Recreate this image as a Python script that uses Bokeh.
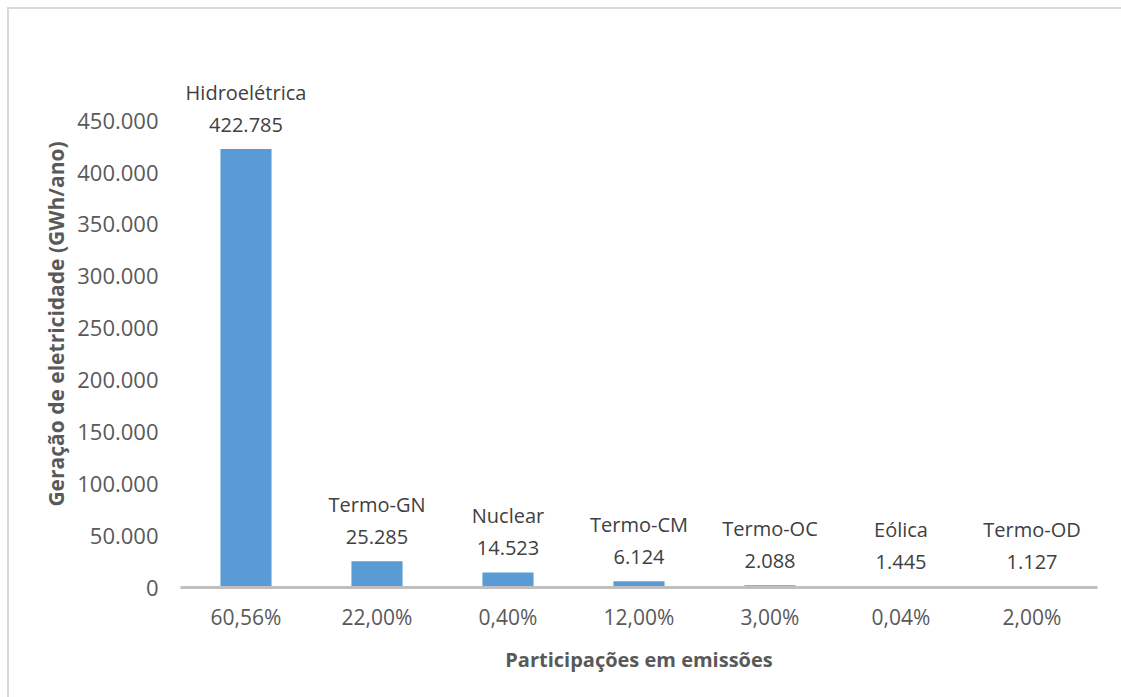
from bokeh.plotting import figure
from bokeh.models import ColumnDataSource, Range1d, FixedTicker, CustomJSTickFormatter
from bokeh.embed import file_html
from bokeh.resources import INLINE
from bokeh.core.properties import value

# Emission shares (x categories), source names and yearly generation (GWh/ano)
shares = ["60,56%", "22,00%", "0,40%", "12,00%", "3,00%", "0,04%", "2,00%"]
sources = ["Hidroelétrica", "Termo-GN", "Nuclear", "Termo-CM", "Termo-OC", "Eólica", "Termo-OD"]
generation = [422785, 25285, 14523, 6124, 2088, 1445, 1127]
y_ticks = [0, 50000, 100000, 150000, 200000, 250000, 300000, 350000, 400000, 450000]

FONT = "Open Sans"
TXT = "#595959"

def fmt(v):
    return f"{v:,}".replace(",", ".")

src = ColumnDataSource(dict(
    share=shares,
    source=sources,
    gen=generation,
    gen_label=[fmt(v) for v in generation],
))

p = figure(
    x_range=shares,
    y_range=Range1d(0, 508000),
    frame_width=917, frame_height=527,
    min_border_left=171, min_border_right=24,
    min_border_top=51, min_border_bottom=110,
    output_backend="svg", toolbar_location=None,
)
p.styles = {
    "margin-left": "7px", "margin-top": "7px",
    "border-left": "2px solid #d9d9d9", "border-top": "2px solid #d9d9d9",
}
p.outline_line_color = None
p.background_fill_color = "white"
p.border_fill_color = "white"
p.grid.visible = False

p.vbar(x="share", top="gen", width=0.39, bottom=0, source=src,
       fill_color="#5b9bd5", line_color=None)

# two-line data labels: source name above its value
p.text(x="share", y="gen", text="gen_label", source=src,
       text_align="center", text_baseline="bottom", y_offset=-17,
       text_font=value(FONT), text_font_size="20px", text_color="#404040")
p.text(x="share", y="gen", text="source", source=src,
       text_align="center", text_baseline="bottom", y_offset=-43,
       text_font=value(FONT), text_font_size="20px", text_color="#404040")

# y axis
ya = p.yaxis[0]
ya.ticker = FixedTicker(ticks=y_ticks)
ya.formatter = CustomJSTickFormatter(code="""
    return tick == 0 ? "0" : tick.toLocaleString('en-US').replace(/,/g, '.');
""")
ya.axis_line_color = None
ya.major_tick_line_color = None
ya.minor_tick_line_color = None
ya.major_label_standoff = 16
ya.major_label_text_font = FONT
ya.major_label_text_font_size = "22px"
ya.major_label_text_color = TXT
ya.axis_label = "Geração de eletricidade (GWh/ano)"
ya.axis_label_text_font = FONT
ya.axis_label_text_font_style = "bold"
ya.axis_label_text_font_size = "21px"
ya.axis_label_text_color = TXT
ya.axis_label_standoff = 4

# x axis
xa = p.xaxis[0]
xa.axis_line_color = "#bfbfbf"
xa.axis_line_width = 3
xa.major_tick_line_color = None
xa.minor_tick_line_color = None
xa.major_label_standoff = 9
xa.major_label_text_font = FONT
xa.major_label_text_font_size = "21px"
xa.major_label_text_color = TXT
xa.axis_label = "Participações em emissões"
xa.axis_label_text_font = FONT
xa.axis_label_text_font_style = "bold"
xa.axis_label_text_font_size = "20px"
xa.axis_label_text_color = TXT
xa.axis_label_standoff = 12

open("out.html", "w").write(file_html(p, INLINE))
